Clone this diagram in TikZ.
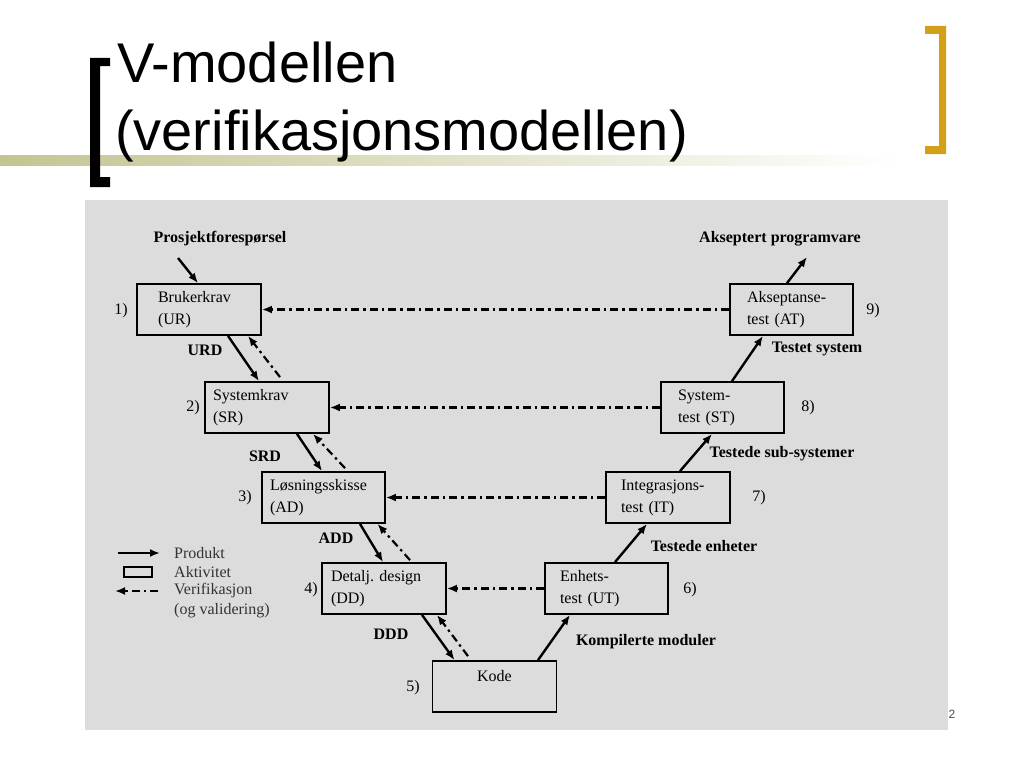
\documentclass[tikz,border=0pt]{standalone}
\usepackage{fontspec}
\setmainfont{Liberation Serif}
\newfontfamily\titlefont{Liberation Sans}
\usepackage{xcolor}
\usetikzlibrary{arrows.meta, calc}

\definecolor{panelgray}{RGB}{220,220,220}
\definecolor{bandolive}{RGB}{196,196,146}
\definecolor{bracketgold}{RGB}{212,160,23}

\begin{document}
\begin{tikzpicture}[
    x=1pt, y=-1pt,
    activity/.style 2 args={draw, line width=1.8pt, minimum height=51pt,
        inner xsep=#1, inner ysep=0pt, text width=#2, align=left,
        font=\fontsize{16}{22}\selectfont},
    product/.style={-{Latex[length=10pt,width=8pt]}, line width=2.4pt},
    verify/.style={-{Latex[length=10pt,width=8pt]}, line width=2.2pt,
        dash pattern=on 8pt off 4pt on 2.5pt off 4pt},
    flowlabel/.style={font=\bfseries\fontsize{16}{18}\selectfont},
    stepnum/.style={font=\fontsize{16}{18}\selectfont},
    legendtext/.style={anchor=west, inner sep=0pt, align=left,
        font=\fontsize{16}{20}\selectfont, text=black!80}
]
    % Slide background, band and brackets
    \useasboundingbox (0,0) rectangle (1024,768);
    \fill[white] (0,0) rectangle (1024,768);
    \shade[left color=bandolive, right color=white] (0,155) rectangle (900,165);
    \fill[panelgray] (85,200) rectangle (948,730);
    \fill[black] (90,58) -- (110,58) -- (110,66) -- (100,66) -- (100,177)
        -- (110,177) -- (110,187) -- (90,187) -- cycle;
    \fill[bracketgold] (925,26) -- (946,26) -- (946,154) -- (925,154)
        -- (925,146) -- (939,146) -- (939,34) -- (925,34) -- cycle;

    % Title
    \node[anchor=base west, inner sep=0pt, font=\titlefont\fontsize{56}{68}\selectfont]
        (title1) at (117,82) {V-modellen};
    \node[anchor=base west, inner sep=0pt, font=\titlefont\fontsize{56}{68}\selectfont]
        (title2) at (115,150) {(verifikasjonsmodellen)};
    \node[font=\titlefont\fontsize{12}{12}\selectfont, text=black!70] (pagenum) at (952,714) {2};

    % Activities, left branch
    \node[activity={21pt}{82pt}] (ur) at (199,309.5) {Brukerkrav\\(UR)};
    \node[activity={8pt}{108pt}] (sr) at (267,407.5) {Systemkrav\\(SR)};
    \node[activity={8pt}{107pt}] (ad) at (323.5,497.5) {Løsningsskisse\\(AD)};
    \node[activity={9pt}{106pt}] (dd) at (384,588.5) {Detalj.\ design\\(DD)};
    \node[activity={6pt}{112pt}, align=center] (kode) at (494.5,686.5) {Kode\\\mbox{}};

    % Activities, right branch
    \node[activity={15pt}{93pt}] (ut) at (606.5,588.5) {Enhets-\\test (UT)};
    \node[activity={15pt}{94pt}] (it) at (668,497.5) {Integrasjons-\\test (IT)};
    \node[activity={17pt}{89pt}] (st) at (722.5,407.5) {System-\\test (ST)};
    \node[activity={17pt}{89pt}] (at) at (791.5,309.5) {Akseptanse-\\test (AT)};

    % Step numbers
    \node[stepnum] (n1) at (121,311) {1)};
    \node[stepnum] (n2) at (193,408) {2)};
    \node[stepnum] (n3) at (245,498) {3)};
    \node[stepnum] (n4) at (311,590) {4)};
    \node[stepnum] (n5) at (413,688) {5)};
    \node[stepnum] (n6) at (690,590) {6)};
    \node[stepnum] (n7) at (759,498) {7)};
    \node[stepnum] (n8) at (808,408) {8)};
    \node[stepnum] (n9) at (873,311) {9)};

    % Product labels
    \node[flowlabel] (requestlbl) at (220,239) {Prosjektforespørsel};
    \node[flowlabel] (acceptlbl) at (780,239) {Akseptert programvare};
    \node[flowlabel] (urd) at (205,350) {URD};
    \node[flowlabel] (srd) at (265,456) {SRD};
    \node[flowlabel] (add) at (336,538) {ADD};
    \node[flowlabel] (ddd) at (391,634) {DDD};
    \node[flowlabel] (modlbl) at (646,642) {Kompilerte moduler};
    \node[flowlabel] (unitlbl) at (704,546) {Testede enheter};
    \node[flowlabel] (sublbl) at (782,454) {Testede sub-systemer};
    \node[flowlabel] (syslbl) at (817,349) {Testet system};

    % Products going down
    \coordinate (request) at (178,258);
    \draw[product] (request) -- ([xshift=-1pt]ur.north);
    \draw[product] ([xshift=29pt]ur.south) -- ([xshift=-8pt]sr.north);
    \draw[product] ([xshift=30pt]sr.south) -- ([xshift=-1.5pt]ad.north);
    \draw[product] ([xshift=36.5pt]ad.south) -- ([xshift=-1pt]dd.north);
    \draw[product] ([xshift=38pt]dd.south) -- ([xshift=-40pt]kode.north);

    % Verification going back up
    \draw[verify] ([xshift=13pt,yshift=4pt]sr.north) -- ([xshift=49pt]ur.south);
    \draw[verify] ([xshift=21.5pt,yshift=3pt]ad.north) -- ([xshift=46pt]sr.south);
    \draw[verify] ([xshift=26pt,yshift=2pt]dd.north) -- ([xshift=54pt]ad.south);
    \draw[verify] ([xshift=-26.5pt,yshift=4pt]kode.north) -- ([xshift=53pt]dd.south);

    % Products going up
    \coordinate (accepted) at (807,257);
    \draw[product] ([xshift=43.5pt]kode.north) -- ([xshift=-36.5pt]ut.south);
    \draw[product] ([xshift=8.5pt]ut.north) -- ([xshift=-21pt]it.south);
    \draw[product] ([xshift=12pt]it.north) -- ([xshift=-10.5pt]st.south);
    \draw[product] ([xshift=9.5pt]st.north) -- ([xshift=-28.5pt]at.south);
    \draw[product] ([xshift=-4.5pt]at.north) -- (accepted);

    % Verification across
    \draw[verify] (at.west) -- (ur.east);
    \draw[verify] (st.west) -- (sr.east);
    \draw[verify] (it.west) -- (ad.east);
    \draw[verify] (ut.west) -- (dd.east);

    % Legend
    \coordinate (legprodA) at (118,553);
    \coordinate (legprodB) at (160,553);
    \coordinate (legverA) at (158,591);
    \coordinate (legverB) at (115,591);
    \draw[product, line width=2pt] (legprodA) -- (legprodB);
    \node[draw, line width=1.8pt, minimum width=28pt, minimum height=10pt, inner sep=0pt]
        (legact) at (138,572) {};
    \draw[verify, line width=2pt] (legverA) -- (legverB);
    \node[legendtext] (legprod) at (174,553) {Produkt};
    \node[legendtext] (legactlbl) at (174,572) {Aktivitet};
    \node[legendtext] (legver) at (174,601) {Verifikasjon\\(og validering)};
\end{tikzpicture}
\end{document}
